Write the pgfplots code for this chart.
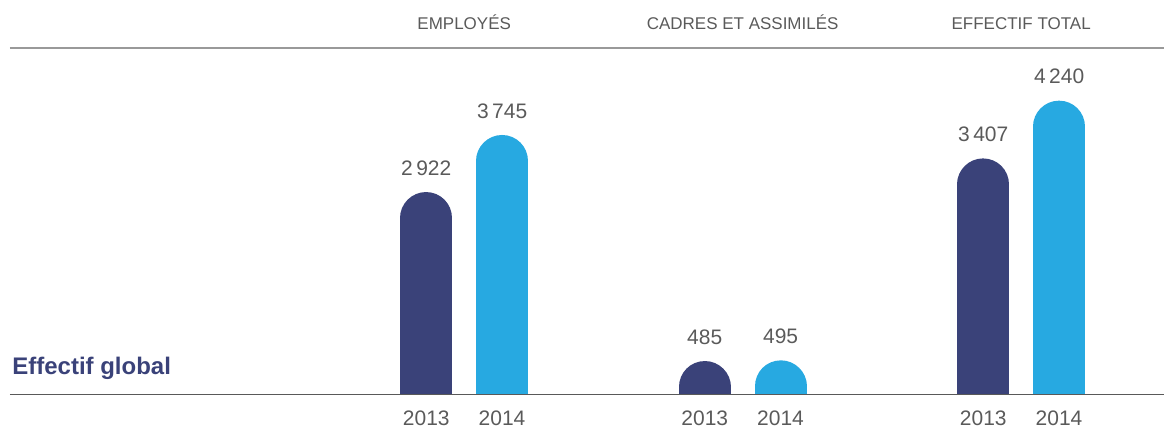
\documentclass[border=0pt]{standalone}
\usepackage{pgfplots}
\pgfplotsset{compat=1.18}
\usepackage{fontspec}
\setmainfont{Liberation Sans}

\definecolor{navy}{HTML}{3A4279}
\definecolor{sky}{HTML}{27A9E1}
\definecolor{txt}{HTML}{5A5A5A}

% 1px of the reference = 0.5pt here
\begin{document}
\begin{tikzpicture}
\begin{axis}[
    name=ax,
    scale only axis,
    width=577.5pt, height=173.5pt,
    xmin=-0.631, xmax=3.513,
    ymin=0, ymax=5000,
    axis line style={draw=none},
    ytick=\empty,
    xtick={0.864,1.136,1.864,2.136,2.864,3.136},
    xticklabels={2013,2014,2013,2014,2013,2014},
    major tick length=0pt,
    xticklabel style={font=\fontsize{10.5}{12}\selectfont, text=txt, yshift=-4.5pt},
    /pgf/number format/assume math mode=true,
    /pgf/number format/1000 sep={\,},
    nodes near coords,
    every node near coord/.append style={font=\fontsize{10.5}{12}\selectfont, text=txt, anchor=south, yshift=5pt},
]
\addplot[ycomb, draw=navy, line width=26pt, line cap=round, xshift=-19pt, yshift=-13pt, mark=none]
  coordinates {(1,2922) (2,485) (3,3407)};
\addplot[ycomb, draw=sky, line width=26pt, line cap=round, xshift=19pt, yshift=-13pt, mark=none]
  coordinates {(1,3745) (2,495) (3,4240)};

\coordinate (h1) at (axis cs:1,5000);
\coordinate (h2) at (axis cs:2,5000);
\coordinate (h3) at (axis cs:3,5000);
\end{axis}

\draw[black!40, line width=1pt] (ax.north west) -- (ax.north east);
\draw[black!65, line width=0.8pt] (ax.south west) -- (ax.south east);

\node[font=\fontsize{8.5}{10}\selectfont, text=txt, anchor=base] at ([yshift=9pt]h1) {EMPLOYÉS};
\node[font=\fontsize{8.5}{10}\selectfont, text=txt, anchor=base] at ([yshift=9pt]h2) {CADRES ET ASSIMILÉS};
\node[font=\fontsize{8.5}{10}\selectfont, text=txt, anchor=base] at ([yshift=9pt]h3) {EFFECTIF TOTAL};
\node[font=\bfseries\fontsize{12}{14}\selectfont, text=navy, anchor=base west, inner sep=0pt] at ([xshift=1pt, yshift=10pt]ax.south west) {Effectif global};

\path ([xshift=-5pt, yshift=-16.5pt]ax.south west) rectangle ([yshift=24pt]ax.north east);
\end{tikzpicture}
\end{document}
